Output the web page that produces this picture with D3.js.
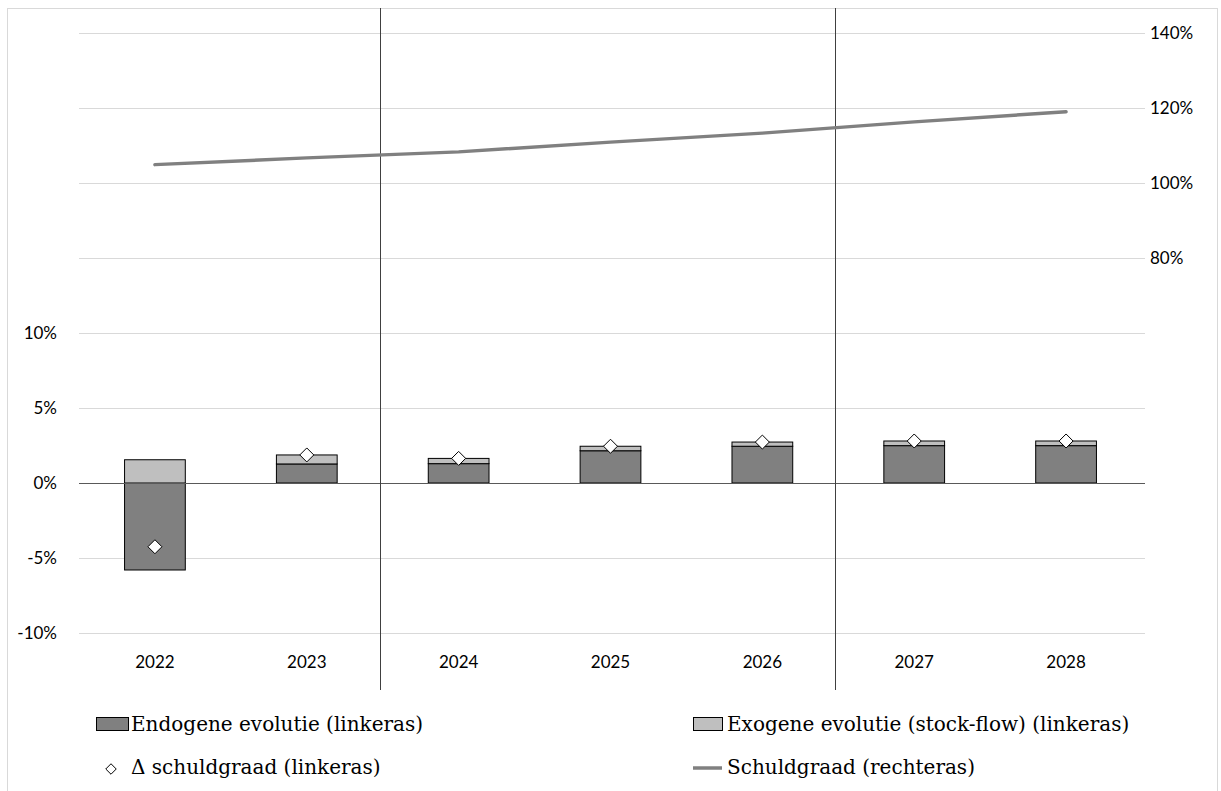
<!DOCTYPE html>
<html>
<head>
<meta charset="utf-8">
<script src="https://cdn.jsdelivr.net/npm/d3@7"></script>
<style>
  body { margin: 0; background: #fff; }
  .axis-label { font-family: Lato, "Open Sans", sans-serif; font-size: 17px; fill: #000; }
  .legend-label { font-family: "DejaVu Serif", serif; font-size: 20px; fill: #000; }
</style>
</head>
<body>
<div id="chart"></div>
<script>
const width = 1221, height = 791;

// data
const years = ['2022', '2023', '2024', '2025', '2026', '2027', '2028'];
const endogene = [-5.8, 1.27, 1.29, 2.15, 2.45, 2.49, 2.49];     // % (left axis)
const exogene = [1.55, 0.6, 0.35, 0.3, 0.28, 0.31, 0.31];         // % (left axis)
const deltaSchuld = [-4.25, 1.87, 1.64, 2.45, 2.73, 2.8, 2.8];    // % (left axis)
const schuldgraad = [104.9, 106.7, 108.3, 110.9, 113.3, 116.3, 119.0]; // % (right axis)
const leftTicks = [-10, -5, 0, 5, 10, 15, 20, 25, 30];
const leftLabels = [-10, -5, 0, 5, 10];
const rightLabels = [80, 100, 120, 140];
const separators = [['2023', '2024'], ['2026', '2027']];

const svg = d3.select('#chart').append('svg')
  .attr('width', width).attr('height', height);

// outer frame
svg.append('rect')
  .attr('x', 7.5).attr('y', 8.5).attr('width', 1210).attr('height', 800)
  .attr('fill', 'none').attr('stroke', '#d9d9d9');

const x = d3.scaleBand().domain(years).range([79, 1142])
  .paddingInner(0.6).paddingOuter(0.3);
const y = d3.scaleLinear().domain([-10, 30]).range([633, 33]);
const y2 = d3.scaleLinear().domain([-20, 140]).range([633, 33]);

// gridlines
svg.append('g').selectAll('line').data(leftTicks.filter(d => d !== 0)).join('line')
  .attr('x1', 79).attr('x2', 1145)
  .attr('y1', d => Math.round(y(d)) + 0.5).attr('y2', d => Math.round(y(d)) + 0.5)
  .attr('stroke', '#d9d9d9').attr('stroke-width', 1);

// left axis labels
svg.append('g').selectAll('text').data(leftLabels).join('text')
  .attr('class', 'axis-label')
  .attr('x', 57).attr('y', d => y(d)).attr('dy', '0.35em')
  .attr('text-anchor', 'end')
  .text(d => d + '%');

// right axis labels
svg.append('g').selectAll('text').data(rightLabels).join('text')
  .attr('class', 'axis-label')
  .attr('x', 1150).attr('y', d => y2(d)).attr('dy', '0.35em')
  .text(d => d + '%');

// stacked bars
const barG = svg.append('g');
barG.selectAll('rect.endo').data(years).join('rect')
  .attr('class', 'endo')
  .attr('x', d => x(d)).attr('width', x.bandwidth())
  .attr('y', (d, i) => y(Math.max(0, endogene[i])))
  .attr('height', (d, i) => Math.abs(y(endogene[i]) - y(0)))
  .attr('fill', '#808080').attr('stroke', '#000').attr('stroke-width', 1);

barG.selectAll('rect.exo').data(years).join('rect')
  .attr('class', 'exo')
  .attr('x', d => x(d)).attr('width', x.bandwidth())
  .attr('y', (d, i) => {
    const base = Math.max(0, endogene[i]);
    return y(base + exogene[i]);
  })
  .attr('height', (d, i) => y(0) - y(exogene[i]))
  .attr('fill', '#bfbfbf').attr('stroke', '#000').attr('stroke-width', 1);

// zero line
svg.append('line')
  .attr('x1', 79).attr('x2', 1145)
  .attr('y1', Math.round(y(0)) + 0.5).attr('y2', Math.round(y(0)) + 0.5)
  .attr('stroke', '#595959').attr('stroke-width', 1.2);

// vertical separators between periods
const step = x.step();
svg.append('g').selectAll('line').data(separators).join('line')
  .attr('x1', d => Math.round(x(d[0]) + x.bandwidth() / 2 + step / 2) - 2.5)
  .attr('x2', d => Math.round(x(d[0]) + x.bandwidth() / 2 + step / 2) - 2.5)
  .attr('y1', 8).attr('y2', 690)
  .attr('stroke', '#404040').attr('stroke-width', 1);

// debt ratio line (right axis)
const line = d3.line()
  .x((d, i) => x(years[i]) + x.bandwidth() / 2)
  .y(d => y2(d));
svg.append('path').datum(schuldgraad)
  .attr('d', line)
  .attr('fill', 'none').attr('stroke', '#808080').attr('stroke-width', 3.5)
  .attr('stroke-linecap', 'round');

// diamonds
const diamond = d3.symbol().type(d3.symbolDiamond2).size(125);
svg.append('g').selectAll('path').data(deltaSchuld).join('path')
  .attr('d', diamond)
  .attr('transform', (d, i) => `translate(${x(years[i]) + x.bandwidth() / 2},${y(d)})`)
  .attr('fill', '#fff').attr('stroke', '#000').attr('stroke-width', 1);

// x labels
svg.append('g').selectAll('text').data(years).join('text')
  .attr('class', 'axis-label')
  .attr('x', d => x(d) + x.bandwidth() / 2).attr('y', 662).attr('dy', '0.35em')
  .attr('text-anchor', 'middle')
  .text(d => d);

// legend
const leg = svg.append('g');
leg.append('rect').attr('x', 96.5).attr('y', 717.5).attr('width', 32).attr('height', 13)
  .attr('fill', '#808080').attr('stroke', '#000');
leg.append('text').attr('class', 'legend-label').attr('x', 131).attr('y', 724).attr('dy', '0.35em')
  .text('Endogene evolutie (linkeras)');

leg.append('rect').attr('x', 693.5).attr('y', 717.5).attr('width', 29).attr('height', 13)
  .attr('fill', '#bfbfbf').attr('stroke', '#000');
leg.append('text').attr('class', 'legend-label').attr('x', 727).attr('y', 724).attr('dy', '0.35em')
  .text('Exogene evolutie (stock-flow) (linkeras)');

leg.append('path').attr('d', d3.symbol().type(d3.symbolDiamond2).size(70))
  .attr('transform', 'translate(111,769)')
  .attr('fill', '#fff').attr('stroke', '#000');
leg.append('text').attr('class', 'legend-label').attr('x', 131).attr('y', 767).attr('dy', '0.35em')
  .text('Δ schuldgraad (linkeras)');

leg.append('line').attr('x1', 693).attr('x2', 722).attr('y1', 768).attr('y2', 768)
  .attr('stroke', '#808080').attr('stroke-width', 3.5);
leg.append('text').attr('class', 'legend-label').attr('x', 727).attr('y', 767).attr('dy', '0.35em')
  .text('Schuldgraad (rechteras)');
</script>
</body>
</html>
